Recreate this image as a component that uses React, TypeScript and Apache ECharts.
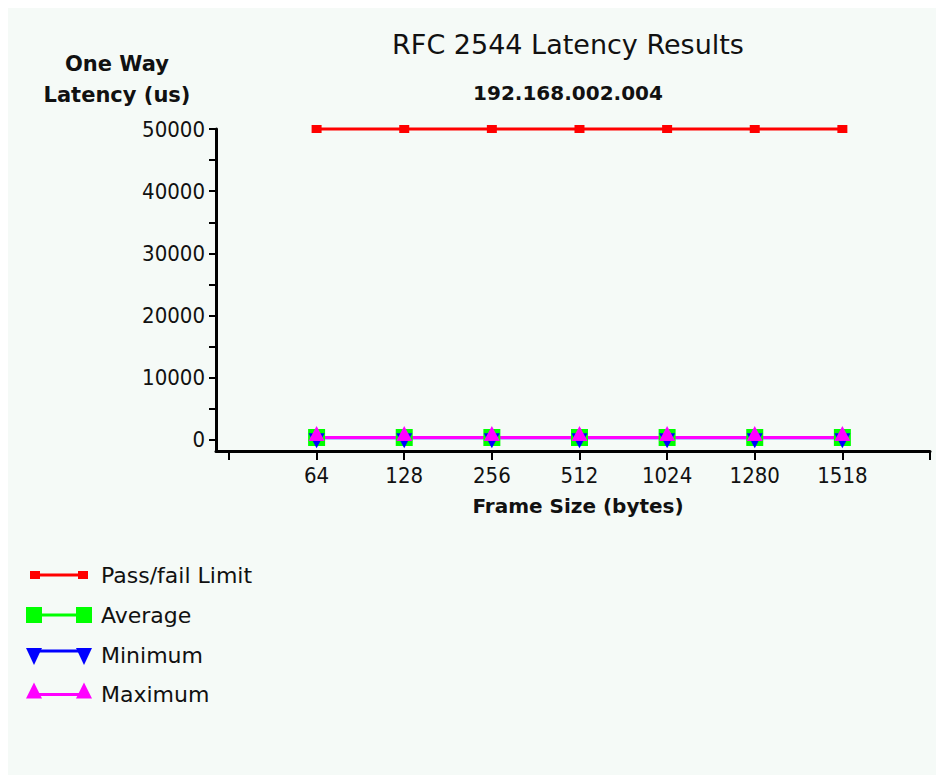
import React, { useEffect, useRef } from 'react';
import * as echarts from 'echarts';

// ---- data ----
const frameSizes = ['64', '128', '256', '512', '1024', '1280', '1518'];
const passFailLimit = [50000, 50000, 50000, 50000, 50000, 50000, 50000];
const average = [400, 400, 400, 400, 400, 400, 400];
const minimum = [380, 380, 380, 380, 380, 380, 380];
const maximum = [420, 420, 420, 420, 420, 420, 420];
const seriesNames = ['Pass/fail Limit', 'Average', 'Minimum', 'Maximum'];
const yTickValues = [0, 5000, 10000, 15000, 20000, 25000, 30000, 35000, 40000, 45000, 50000];
const yLabelValues = [0, 10000, 20000, 30000, 40000, 50000];

const BG = '#f5faf7';
const INK = '#111111';
const FONT = 'DejaVu Sans';
const FONT_COND = '"DejaVu Sans Condensed", "DejaVu Sans", sans-serif';

const COLORS = ['#ff0000', '#00ff00', '#0000ff', '#ff00ff'];

function legendGraphics() {
  const items: any[] = [];
  const centers = [567, 607, 647, 686.5];
  const textX = 93;
  // Pass/fail
  let c = centers[0];
  items.push({ type: 'line', shape: { x1: 27, y1: c, x2: 75, y2: c }, style: { stroke: COLORS[0], lineWidth: 3 } });
  items.push({ type: 'rect', shape: { x: 22, y: c - 4, width: 10, height: 8 }, style: { fill: COLORS[0] } });
  items.push({ type: 'rect', shape: { x: 70, y: c - 4, width: 10, height: 8 }, style: { fill: COLORS[0] } });
  // Average
  c = centers[1];
  items.push({ type: 'line', shape: { x1: 26, y1: c, x2: 76, y2: c }, style: { stroke: COLORS[1], lineWidth: 3 } });
  items.push({ type: 'rect', shape: { x: 18, y: c - 8, width: 16, height: 16 }, style: { fill: COLORS[1] } });
  items.push({ type: 'rect', shape: { x: 68, y: c - 8, width: 16, height: 16 }, style: { fill: COLORS[1] } });
  // Minimum (down triangles)
  c = centers[2];
  const lyB = c - 4;
  items.push({ type: 'line', shape: { x1: 26, y1: lyB, x2: 76, y2: lyB }, style: { stroke: COLORS[2], lineWidth: 3 } });
  [26, 76].forEach((cx) => {
    items.push({ type: 'polygon', shape: { points: [[cx - 8, c - 7], [cx + 8, c - 7], [cx, c + 10]] }, style: { fill: COLORS[2] } });
  });
  // Maximum (up triangles)
  c = centers[3];
  items.push({ type: 'line', shape: { x1: 26, y1: c, x2: 76, y2: c }, style: { stroke: COLORS[3], lineWidth: 3 } });
  [26, 76].forEach((cx) => {
    items.push({ type: 'polygon', shape: { points: [[cx - 8, c + 4], [cx + 8, c + 4], [cx, c - 12]] }, style: { fill: COLORS[3] } });
  });
  seriesNames.forEach((name, i) => {
    items.push({
      type: 'text',
      x: textX,
      y: centers[i],
      style: { text: name, fill: INK, font: `22px ${FONT}`, textAlign: 'left', textVerticalAlign: 'middle' },
    });
  });
  return items;
}

export default function App() {
  const ref = useRef<HTMLDivElement>(null);
  useEffect(() => {
    const chart = echarts.init(ref.current!, null, { renderer: 'svg' });
    const toXY = (vals: number[]) => vals.map((v, i) => [i + 1, v]);
    const option: any = {
      animation: false,
      backgroundColor: BG,
      grid: { left: 208, right: 6, top: 121, bottom: 324, containLabel: false },
      xAxis: {
        type: 'value',
        min: -0.148,
        max: 8,
        splitLine: { show: false },
        axisLine: { show: true, onZero: false, lineStyle: { color: '#000', width: 3 } },
        axisTick: { show: true, length: 9, lineStyle: { color: '#000', width: 2 }, customValues: [0, 1, 2, 3, 4, 5, 6, 7, 8] },
        axisLabel: {
          show: true,
          margin: 13,
          customValues: [1, 2, 3, 4, 5, 6, 7],
          formatter: (v: number) => frameSizes[Math.round(v) - 1] ?? '',
          color: INK,
          fontFamily: FONT_COND,
          fontSize: 22,
        },
      },
      yAxis: {
        type: 'value',
        min: -1770,
        max: 50000,
        splitLine: { show: false },
        axisLine: { show: true, onZero: false, lineStyle: { color: '#000', width: 3 } },
        axisTick: { show: true, length: 7, lineStyle: { color: '#000', width: 2 }, customValues: yTickValues },
        axisLabel: {
          show: true,
          margin: 11,
          customValues: yLabelValues,
          formatter: (v: number) => String(v),
          color: INK,
          fontFamily: FONT_COND,
          fontSize: 22,
        },
      },
      graphic: [
        { type: 'text', x: 560, y: 36, style: { text: 'RFC 2544 Latency Results', fill: INK, font: `27px ${FONT}`, textAlign: 'center', textVerticalAlign: 'middle' } },
        { type: 'text', x: 560, y: 85, style: { text: '192.168.002.004', fill: INK, font: `bold 20px ${FONT}`, textAlign: 'center', textVerticalAlign: 'middle' } },
        { type: 'text', x: 109, y: 71.5, style: { text: 'One Way\nLatency (us)', fill: INK, font: `bold 21px ${FONT}`, lineHeight: 31, textAlign: 'center', textVerticalAlign: 'middle' } },
        { type: 'text', x: 570, y: 498, style: { text: 'Frame Size (bytes)', fill: INK, font: `bold 20px ${FONT}`, textAlign: 'center', textVerticalAlign: 'middle' } },
        ...legendGraphics(),
      ],
      series: [
        {
          name: seriesNames[0], type: 'line', data: toXY(passFailLimit), clip: false,
          symbol: 'rect', symbolSize: [10, 8], itemStyle: { color: COLORS[0] }, lineStyle: { color: COLORS[0], width: 3 },
        },
        {
          name: seriesNames[1], type: 'line', data: toXY(average), clip: false,
          symbol: 'rect', symbolSize: [17, 17], itemStyle: { color: COLORS[1] }, lineStyle: { color: COLORS[1], width: 3 },
        },
        {
          name: seriesNames[2], type: 'line', data: toXY(minimum), clip: false,
          symbol: 'triangle', symbolRotate: 180, symbolSize: [16, 15], symbolOffset: [0, 3],
          itemStyle: { color: COLORS[2] }, lineStyle: { color: COLORS[2], width: 3 },
        },
        {
          name: seriesNames[3], type: 'line', data: toXY(maximum), clip: false,
          symbol: 'triangle', symbolSize: [16, 15], symbolOffset: [0, -4],
          itemStyle: { color: COLORS[3] }, lineStyle: { color: COLORS[3], width: 3 },
        },
      ],
    };
    chart.setOption(option);
    return () => chart.dispose();
  }, []);
  return (
    <div
      ref={ref}
      style={{ position: 'fixed', left: 8, top: 8, width: 928, height: 767, background: BG }}
    />
  );
}
